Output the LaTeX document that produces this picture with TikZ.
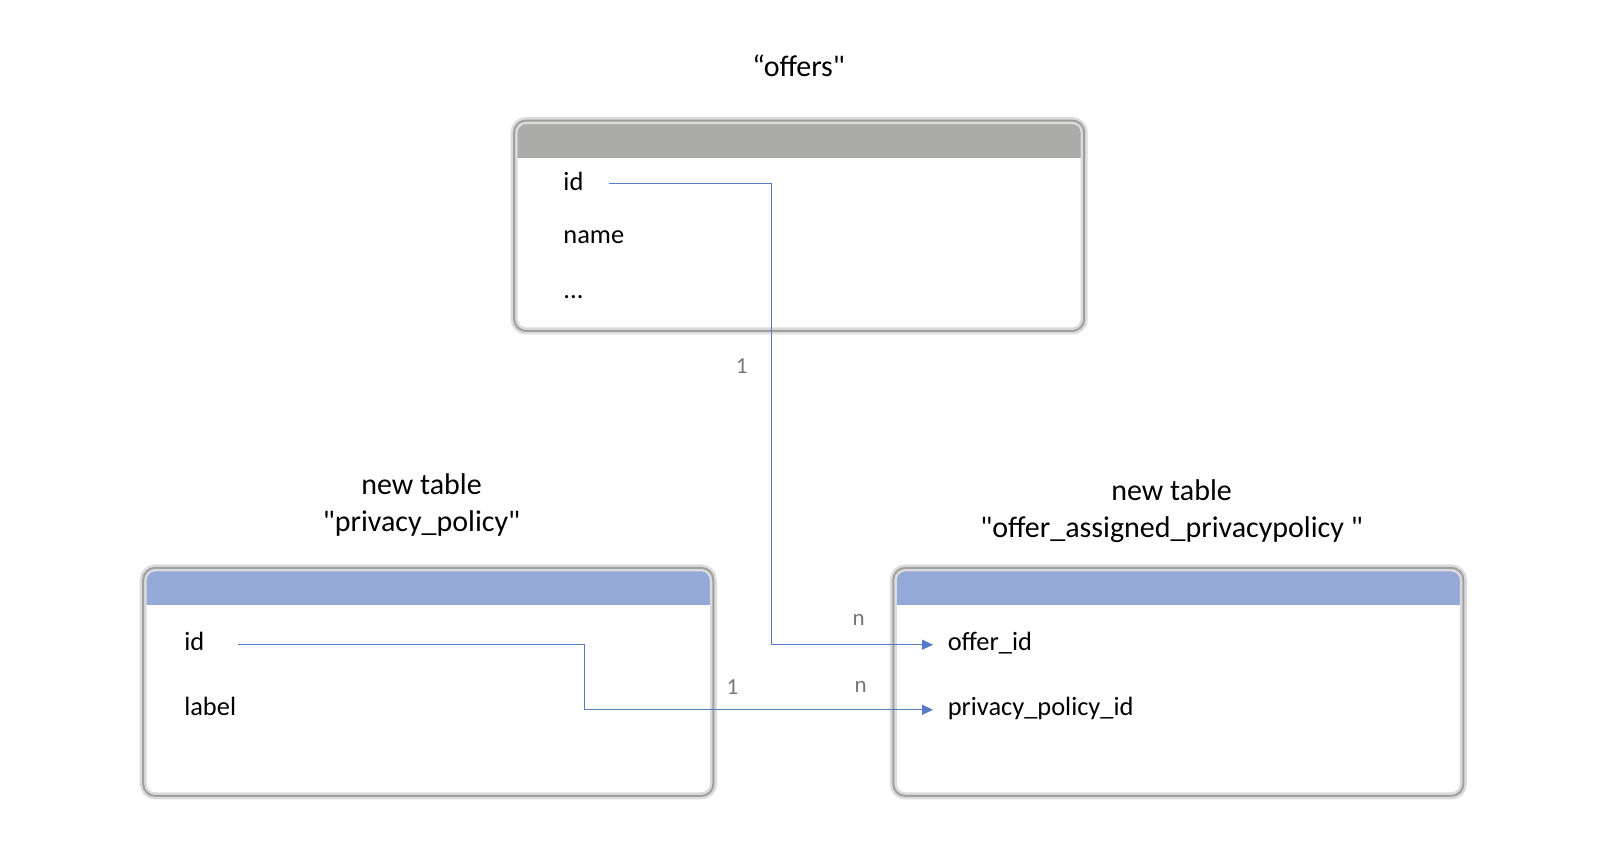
\documentclass[tikz,border=0pt]{standalone}
\usepackage{fontspec}
\setmainfont{Carlito}[Ligatures=TeXOff]
\usetikzlibrary{arrows.meta,positioning}
\definecolor{linkblue}{RGB}{84,122,200}
\definecolor{headgray}{RGB}{171,171,170}
\definecolor{headblue}{RGB}{148,169,216}
\definecolor{rimgray}{RGB}{160,160,160}
\definecolor{cardgray}{RGB}{118,118,118}

\begin{document}
\begin{tikzpicture}[
        x=0.5165pt, y=-0.5165pt,
        table/.style={fill=white, rounded corners=6pt, minimum width=284.6pt, inner sep=0pt},
        rim/.style={draw=rimgray, line width=1pt, rounded corners=6pt,
            preaction={draw=black!14, line width=3.5pt}},
        title/.style={align=center, font=\fontsize{15}{18.6}\selectfont},
        field/.style={anchor=west, inner sep=0pt, text height=9.3pt, text depth=3.1pt,
            font=\fontsize{13.2}{15.5}\selectfont},
        card/.style={text=cardgray, font=\fontsize{11.5}{13}\selectfont},
        link/.style={draw=linkblue, line width=0.55pt, -{Triangle[length=5.5pt, width=5pt]}}
    ]
    \useasboundingbox (0,0) rectangle (1568,830.5);

    % Tables
    \node[table, minimum height=104.8pt] (offers) at (773.5,218.5) {};
    \node[table, minimum height=113.6pt] (policy) at (414.5,660) {};
    \node[table, minimum height=113.6pt] (assigned) at (1140.5,660) {};

    % Headers
    \foreach \t/\c in {offers/headgray, policy/headblue, assigned/headblue} {
        \begin{scope}
            \clip[rounded corners=6pt] (\t.north west) rectangle (\t.south east);
            \fill[\c] (\t.north west) rectangle ([yshift=-18.6pt]\t.north east);
        \end{scope}
        \path[rim] (\t.north west) rectangle (\t.south east);
    }

    % Titles
    \node[title] (toffers) at (773,64) {“offers"};
    \node[title] (tpolicy) at (408,489) {new table\\"privacy\_policy"};
    \node[title] (tassigned) at (1134,495) {new table\\"offer\_assigned\_privacypolicy "};

    % Fields
    \node[field] (oid) at (545,178) {id};
    \node[field] (oname) at (545,230) {name};
    \node[field] (omore) at (545,283) {...};
    \node[field] (pid) at (178,624) {id};
    \node[field] (plabel) at (178,687) {label};
    \node[field] (aoffer) at (917,624) {offer\_id};
    \node[field] (apolicy) at (917,687) {privacy\_policy\_id};

    % Edges
    \coordinate (bendA) at (747,400);
    \coordinate (bendB) at (566,650);
    \draw[link, shorten >=7.2pt] ([xshift=12.4pt]oid.east) -- (oid.east -| bendA)
        -- (bendA |- aoffer.west) -- (aoffer.west);
    \draw[link, shorten >=7.2pt] ([xshift=16.5pt]pid.east) -- (pid.east -| bendB)
        -- (bendB |- apolicy.west) -- (apolicy.west);

    % Cardinalities
    \node[card] (c1) at (718,354) {1};
    \node[card] (c2) at (831,600) {n};
    \node[card] (c3) at (709,665) {1};
    \node[card] (c4) at (833,665) {n};

\end{tikzpicture}
\end{document}
